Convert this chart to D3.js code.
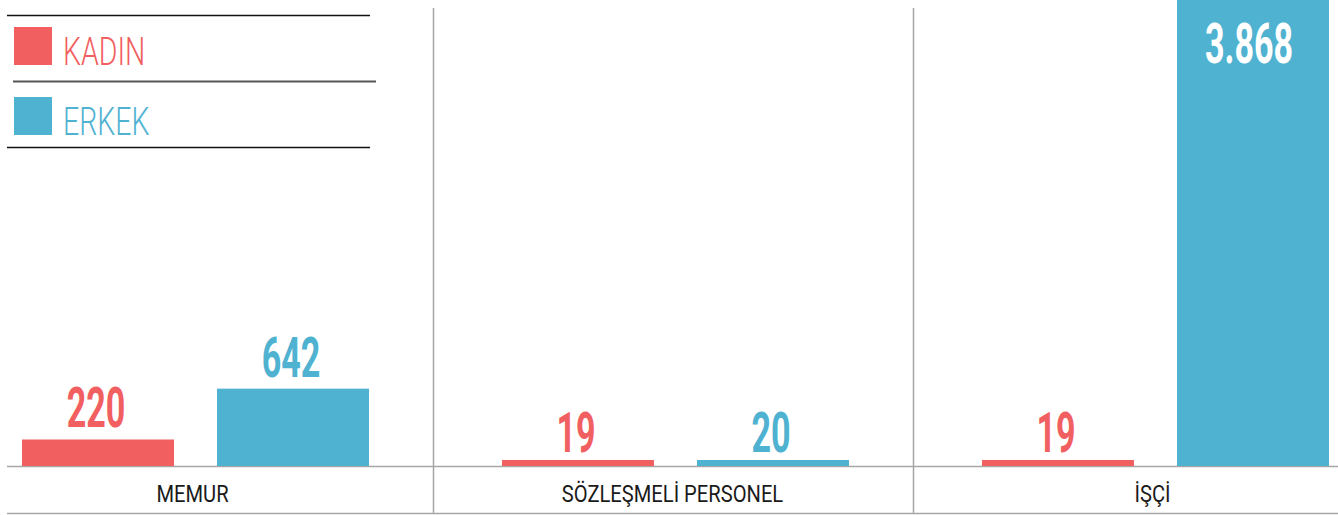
<!DOCTYPE html>
<html>
<head>
<meta charset="utf-8">
<script src="https://cdn.jsdelivr.net/npm/d3@7"></script>
<style>
  body { margin: 0; background: #fff; }
  svg { display: block; font-family: Roboto, "Noto Sans", sans-serif; }
</style>
</head>
<body>
<div id="chart"></div>
<script>
const categories = ["MEMUR", "SÖZLEŞMELİ PERSONEL", "İŞÇİ"];
const seriesNames = ["KADIN", "ERKEK"];
const kadin = [220, 19, 19];
const erkek = [642, 20, 3868];

const w = 1338
const h = 515
const baseY = 466
const colors = { KADIN: "#f15f61", ERKEK: "#4fb2d1" }

// turkish number format, 3.868
const trFormat = d3.formatLocale({ decimal: ",", thousands: ".", grouping: [3], currency: ["₺", ""] }).format(",d")

const rows = categories.map((c, i) => ({ cat: c, values: [
  { key: "KADIN", value: kadin[i] },
  { key: "ERKEK", value: erkek[i] }
]}))

const svg = d3.select("#chart").append("svg")
  .attr("width", w)
  .attr("height", h)

const x0 = d3.scaleBand().domain(categories).range([0, 1440]).padding(0)
const x1 = d3.scaleBand().domain(seriesNames).range([22, 369]).paddingInner(0.2205).paddingOuter(0)
const y = d3.scaleLinear().domain([0, d3.max(erkek)]).range([baseY, 0])
const ymax = d3.max(erkek)

// helper for narrow text (no condensed font installed)
function narrowText(g, x, yy, txt, opts) {
  const t = g.append("g").attr("transform", "translate(" + x + "," + yy + ") scale(" + opts.sx + ",1)")
  t.append("text")
    .attr("text-anchor", opts.anchor || "middle")
    .attr("font-size", opts.size)
    .attr("font-weight", opts.weight || 400)
    .attr("fill", opts.fill)
    .text(txt)
  return t
}

// dividers
categories.slice(1).forEach(c => {
  svg.append("line")
    .attr("x1", x0(c) - 46.5).attr("x2", x0(c) - 46.5)
    .attr("y1", 8).attr("y2", 514)
    .attr("stroke", "#a6a6a6").attr("stroke-width", 1.5)
})

// baseline and bottom line
svg.append("line").attr("x1", 7).attr("x2", w).attr("y1", baseY + 0.5).attr("y2", baseY + 0.5)
  .attr("stroke", "#a6a6a6").attr("stroke-width", 1.5)
svg.append("line").attr("x1", 7).attr("x2", w).attr("y1", 513.5).attr("y2", 513.5)
  .attr("stroke", "#a6a6a6").attr("stroke-width", 1.5)

const groups = svg.selectAll(".grp")
  .data(rows)
  .enter()
  .append("g")
  .attr("class", "grp")
  .attr("transform", d => "translate(" + x0(d.cat) + ",0)")

groups.selectAll("rect")
  .data(d => d.values)
  .enter()
  .append("rect")
  .attr("x", d => x1(d.key))
  .attr("width", x1.bandwidth())
  .attr("y", d => Math.min(y(d.value), baseY - 6))
  .attr("height", d => Math.max(baseY - y(d.value), 6))
  .attr("fill", d => colors[d.key])

groups.each(function(d) {
  const g = d3.select(this)
  d.values.forEach(v => {
    const cx = x1(v.key) + x1.bandwidth() / 2
    if (v.value === ymax) {
      narrowText(g, cx - 4, y(v.value) + 63, trFormat(v.value), { sx: 0.62, size: 55, weight: 700, fill: "#fff" })
    } else {
      narrowText(g, cx - 2, y(v.value) - 12, trFormat(v.value), { sx: 0.62, size: 55, weight: 700, fill: colors[v.key] })
    }
  })
  narrowText(g, x1.range()[0] + (x1.range()[1] - x1.range()[0]) / 2 - 3, 502, d.cat, { sx: 0.84, size: 24, fill: "#1a1a1a" })
})

// legend
const legend = svg.append("g")
legend.append("line").attr("x1", 7).attr("x2", 370).attr("y1", 15.5).attr("y2", 15.5).attr("stroke", "#111").attr("stroke-width", 1.5)
legend.append("line").attr("x1", 13).attr("x2", 376).attr("y1", 81.5).attr("y2", 81.5).attr("stroke", "#555").attr("stroke-width", 2)
legend.append("line").attr("x1", 7).attr("x2", 370).attr("y1", 147.5).attr("y2", 147.5).attr("stroke", "#111").attr("stroke-width", 1.5)

seriesNames.forEach((s, i) => {
  legend.append("rect")
    .attr("x", 14).attr("y", 27 + i * 70)
    .attr("width", 38).attr("height", 38)
    .attr("fill", colors[s])
  narrowText(legend, 63, 65 + i * 70, s, { sx: 0.75, size: 38, weight: 300, fill: colors[s], anchor: "start" })
})
</script>
</body>
</html>
